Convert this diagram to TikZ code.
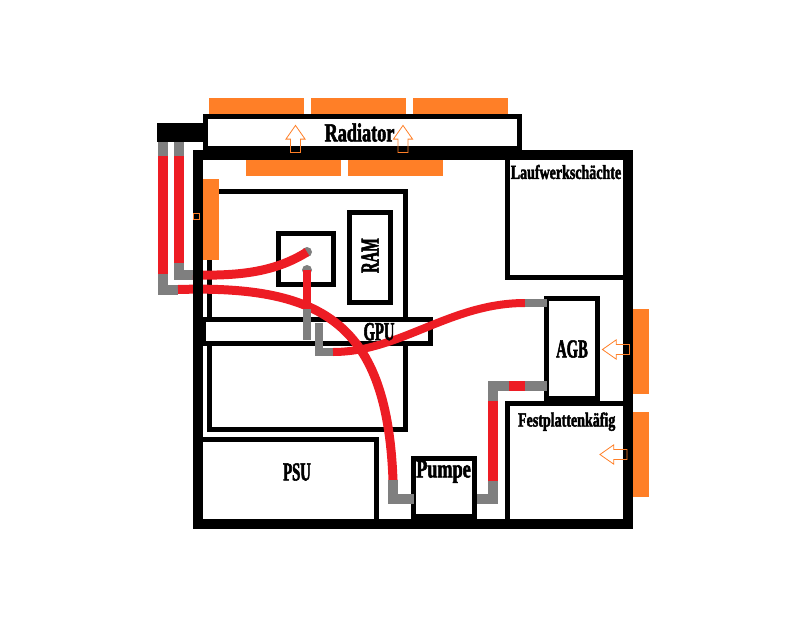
\documentclass[tikz,border=0pt]{standalone}
\usepackage{fontspec}
\setmainfont[FakeStretch=0.7,BoldFeatures={FakeBold=2}]{Liberation Serif}
\newfontfamily\capsfont[FakeStretch=0.56,BoldFeatures={FakeBold=2}]{Liberation Serif}
\usepackage{tikz}
\usetikzlibrary{shapes.arrows}
\definecolor{fanorange}{HTML}{FF7F27}
\definecolor{pipered}{HTML}{ED1C24}
\definecolor{pipegrey}{HTML}{7F7F7F}
\begin{document}
\begin{tikzpicture}[
    x=1pt, y=-1pt,
    box/.style={draw=black, line width=5pt, outer sep=0pt, inner sep=0pt},
    fan/.style={fill=fanorange, outer sep=0pt, inner sep=0pt},
    airflow/.style={single arrow, draw=fanorange, line width=0.8pt, minimum height=27pt, single arrow head extend=4.6pt, single arrow tip angle=70, inner xsep=0pt, inner ysep=4.6pt, outer sep=0pt},
    redpipe/.style={draw=pipered, line width=10pt},
    redcurve/.style={draw=pipered, line width=9pt},
    redhose/.style={draw=pipered, line width=8pt},
    greypipe/.style={draw=pipegrey, line width=10pt},
    greyhose/.style={draw=pipegrey, line width=8pt},
    fitting/.style={circle, fill=pipegrey, minimum size=10pt, inner sep=0pt},
    lbl/.style={font=\bfseries\fontsize{#1}{#1}\selectfont, inner sep=0pt},
    lbl/.default=26pt,
    caps/.style={font=\capsfont\bfseries\fontsize{26pt}{26pt}\selectfont, inner sep=0pt}
]
\useasboundingbox (0,0) rectangle (786,626);

\coordinate (radL) at (163,142);
\coordinate (radLa) at (163,156);
\coordinate (radLb) at (163,274);
\coordinate (radLc) at (163,289.5);
\coordinate (radLd) at (178,289.5);
\coordinate (radR) at (179,142);
\coordinate (radRa) at (179,156);
\coordinate (radRb) at (179,263);
\coordinate (radRc) at (179,275);
\coordinate (radRd) at (193,275);
\coordinate (pumpIn) at (393,480);
\coordinate (pumpInb) at (393,499);
\coordinate (pumpOut) at (477,498.5);
\coordinate (riserA) at (493,498.5);
\coordinate (riserB) at (493,481);
\coordinate (riserC) at (493,401);
\coordinate (riserD) at (493,386);
\coordinate (riserE) at (509,386);
\coordinate (riserF) at (525,386);
\coordinate (cpuOut) at (307,309);
\coordinate (cpuOutb) at (307,340);
\coordinate (gpuIn) at (319,323);
\coordinate (gpuInb) at (319,352);
\coordinate (gpuInc) at (333,352);
\coordinate (agbIn) at (525,303);

\node[box, minimum width=196pt, minimum height=238pt] (Board) at (307.5,310.5) {};
\node[box, minimum width=55pt, minimum height=51pt] (CPU) at (306,259) {};
\node[box, minimum width=41pt, minimum height=90pt] (RAM) at (370,257.5) {};
\node[box, fill=white, minimum width=227pt, minimum height=24pt] (GPU) at (317,331.5) {};
\node[box, minimum width=178.5pt, minimum height=84.5pt] (PSU) at (287.25,481.75) {};
\node[box, minimum width=61pt, minimum height=58pt] (Pumpe) at (444,487.5) {};
\node[box, minimum width=51pt, minimum height=100pt] (AGB) at (572,348.5) {};
\node[box, minimum width=120.5pt, minimum height=120.5pt] (Cage) at (567.75,463.75) {};
\node[box, minimum width=120.5pt, minimum height=122.5pt] (Bays) at (567.75,216.25) {};
\node[box, minimum width=314pt, minimum height=32pt] (Radiator) at (362.5,132.5) {};
\node[fill=black, inner sep=0pt, minimum width=46pt, minimum height=19pt] (Block) at (180,132.5) {};

\node[fan, minimum width=95pt, minimum height=16pt] (fanA) at (256.5,106) {};
\node[fan, minimum width=95pt, minimum height=16pt] (fanB) at (358.5,106) {};
\node[fan, minimum width=95pt, minimum height=16pt] (fanC) at (460.5,106) {};
\node[fan, minimum width=95pt, minimum height=16pt] (fanD) at (293.5,168) {};
\node[fan, minimum width=95pt, minimum height=16pt] (fanE) at (395.5,168) {};
\node[fan, minimum width=16pt, minimum height=81pt] (fanF) at (211,219.5) {};
\node[fan, minimum width=16pt, minimum height=85pt] (fanG) at (641,351.5) {};
\node[fan, minimum width=16pt, minimum height=85pt] (fanH) at (641,454.5) {};

\node[fitting] (fitA) at (307,252) {};
\node[fitting] (fitB) at (307,270) {};

\draw[greypipe] (radL) -- (radLa);
\draw[redpipe] (radLa) -- (radLb);
\draw[greypipe] (radLb) -- (radLc) -- (radLd);
\draw[redcurve] (radLd) .. controls (325,285) and (387,325) .. (pumpIn);
\draw[greypipe] (pumpIn) -- (pumpInb) -- (Pumpe.west |- pumpInb);
\draw[greypipe] (radR) -- (radRa);
\draw[redpipe] (radRa) -- (radRb);
\draw[greypipe] (radRb) -- (radRc) -- (radRd);
\draw[redcurve] (radRd) .. controls (240,276) and (275,272) .. (fitA.center);
\draw[redhose] (fitB.center) -- (cpuOut);
\draw[greyhose] (cpuOut) -- (cpuOutb);
\draw[greyhose] (gpuIn) -- (gpuInb) -- (gpuInc);
\draw[redhose] (gpuInc) .. controls (400,352) and (450,303) .. (agbIn);
\draw[greyhose] (agbIn) -- (AGB.west |- agbIn);
\draw[greypipe] (pumpOut) -- (riserA) -- (riserB);
\draw[redpipe] (riserB) -- (riserC);
\draw[greypipe] (riserC) -- (riserD) -- (riserE);
\draw[redpipe] (riserE) -- (riserF);
\draw[greypipe] (riserF) -- (AGB.west |- riserF);

\node[draw=black, line width=10pt, outer sep=0pt, inner sep=0pt, minimum width=430pt, minimum height=369pt] (Case) at (413,339.5) {};

\node[airflow, rotate=90] (airA) at (295.5,142.5) {};
\node[airflow, rotate=90] (airB) at (403,142.5) {};
\node[airflow, rotate=180] (airC) at (619.5,349.5) {};
\node[airflow, rotate=180] (airD) at (617,454.5) {};
\node[draw=fanorange, line width=0.8pt, inner sep=0pt, minimum size=6.5pt] (airE) at (196.5,216.5) {};

\node[lbl] (radLabel) at (359.5,132.5) {Radiator};
\node[lbl=20pt] (baysLabel) at (566,172) {Laufwerkschächte};
\node[lbl=20pt] (cageLabel) at (566.7,421.7) {Festplattenkäfig};
\node[caps, rotate=90] (ramLabel) at (370,255.5) {RAM};
\node[caps] (gpuLabel) at (379,331.7) {GPU};
\node[caps] (agbLabel) at (572,349) {AGB};
\node[caps] (psuLabel) at (297,472) {PSU};
\node[lbl] (pumpLabel) at (443.5,471.7) {Pumpe};
\end{tikzpicture}
\end{document}
